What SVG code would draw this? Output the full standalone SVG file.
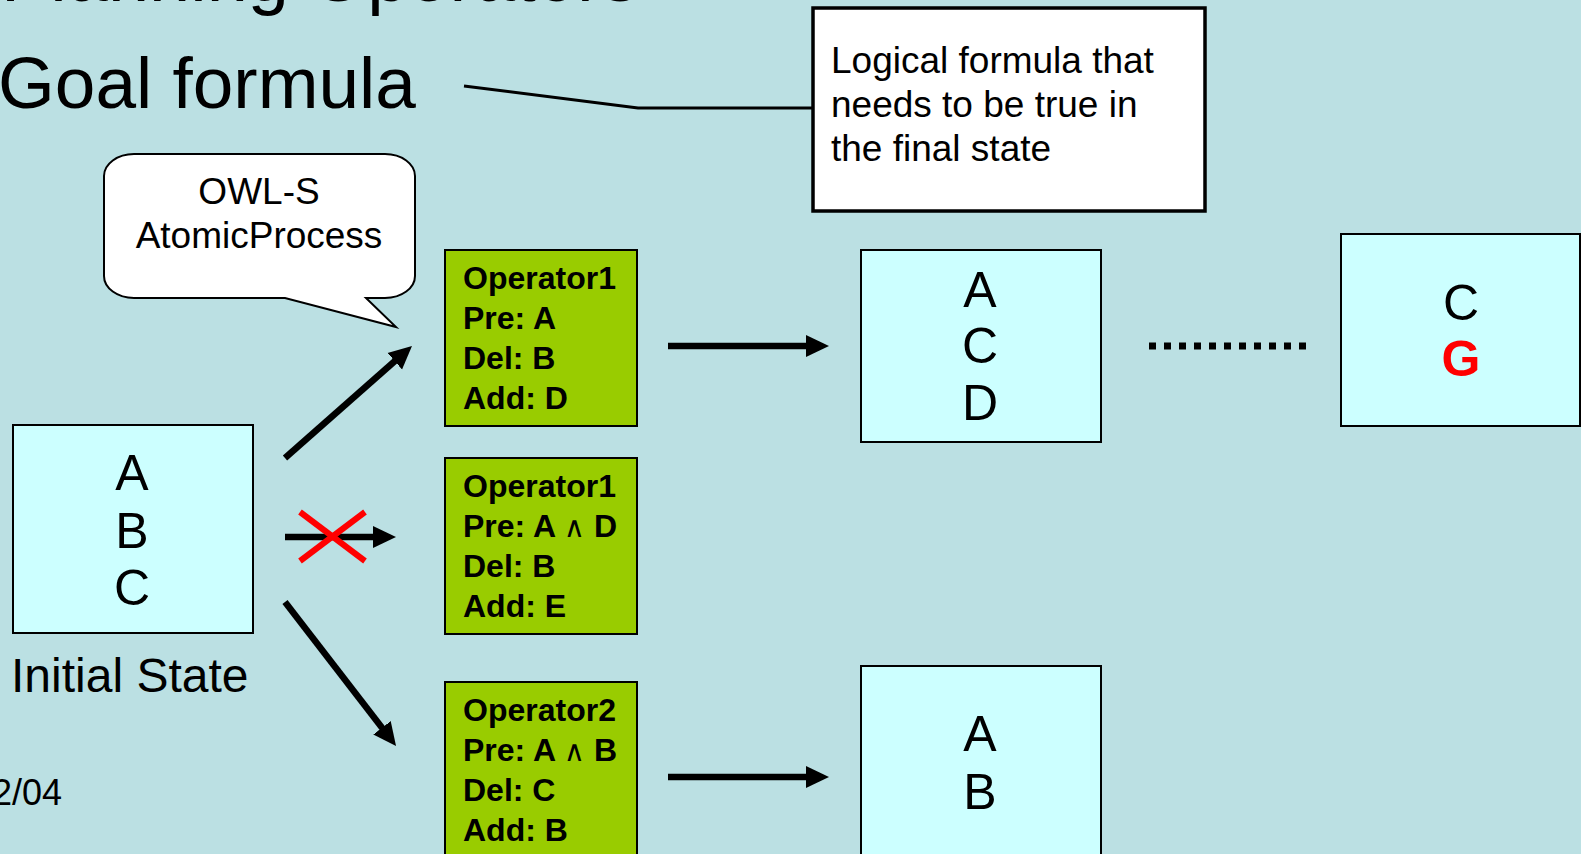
<svg xmlns="http://www.w3.org/2000/svg" width="1581" height="854" viewBox="0 0 1581 854">
<style>
text{font-family:"Liberation Sans",Arial,"DejaVu Sans",sans-serif;fill:#000}
.big{font-size:73px}
.callout{font-size:37px}
.state{fill:#CCFFFF;stroke:#000;stroke-width:2}
.op{fill:#99CC00;stroke:#000;stroke-width:2}
.opt{font-size:32px;font-weight:bold}
.and{font-weight:normal;font-size:29px;font-family:"DejaVu Sans",sans-serif}
.letter{font-size:50px;text-anchor:middle}
.arrow{stroke:#000;stroke-width:6.5;fill:none;marker-end:url(#ah)}
</style>
<defs>
<marker id="ah" markerUnits="userSpaceOnUse" markerWidth="24" markerHeight="24" viewBox="0 0 24 24" refX="1" refY="12" orient="auto">
<path d="M0,1 L23,12 L0,23 Z" fill="#000"/>
</marker>
</defs>
<rect width="1581" height="854" fill="#BBE0E3"/>
<text x="1" y="1" style="font-size:74px">Planning Operators</text>
<text class="big" x="-2" y="108">Goal formula</text>
<text x="-8" y="805" style="font-size:36px">2/04</text>

<g id="connectors">
<polyline points="464,86 638,108 813,108" fill="none" stroke="#000" stroke-width="3"/>
<line class="arrow" x1="285" y1="458" x2="395.5" y2="360.5"/>
<line class="arrow" x1="285" y1="537" x2="374" y2="537"/>
<line class="arrow" x1="285" y1="602" x2="382.6" y2="728.6"/>
<line class="arrow" x1="668" y1="346" x2="807" y2="346"/>
<line class="arrow" x1="668" y1="777" x2="807" y2="777"/>
<line x1="1149" y1="346" x2="1309" y2="346" stroke="#000" stroke-width="7" stroke-dasharray="7 8"/>
<g id="cross" stroke="#FF0000" stroke-width="6">
<line x1="300" y1="512" x2="365" y2="561"/>
<line x1="365" y1="512" x2="300" y2="561"/>
</g>
</g>

<g id="goal-note">
<rect x="813" y="8" width="392" height="203" fill="#fff" stroke="#000" stroke-width="3.5"/>
<text class="callout" x="831" y="73">Logical formula that</text>
<text class="callout" x="831" y="117">needs to be true in</text>
<text class="callout" x="831" y="161">the final state</text>
</g>

<g id="owls-bubble">
<path d="M134,154 H385 A30,22 0 0 1 415,176 V276 A30,22 0 0 1 385,298 H366 L396,327 L285,298 H134 A30,22 0 0 1 104,276 V176 A30,22 0 0 1 134,154 Z" fill="#fff" stroke="#000" stroke-width="2"/>
<text class="callout" x="259" y="204" text-anchor="middle">OWL-S</text>
<text class="callout" x="259" y="248" text-anchor="middle">AtomicProcess</text>
</g>

<g id="initial-state">
<rect class="state" x="13" y="425" width="240" height="208"/>
<text class="letter" x="132" y="490">A</text>
<text class="letter" x="132" y="548">B</text>
<text class="letter" x="132" y="605">C</text>
<text x="11" y="692" style="font-size:48px">Initial State</text>
</g>

<g id="op1-top">
<rect class="op" x="445" y="250" width="192" height="176"/>
<text class="opt" x="463" y="289">Operator1</text>
<text class="opt" x="463" y="329">Pre: A</text>
<text class="opt" x="463" y="369">Del: B</text>
<text class="opt" x="463" y="409">Add: D</text>
</g>

<g id="op1-mid">
<rect class="op" x="445" y="458" width="192" height="176"/>
<text class="opt" x="463" y="497">Operator1</text>
<text class="opt" x="463" y="537">Pre: A <tspan class="and">∧</tspan> D</text>
<text class="opt" x="463" y="577">Del: B</text>
<text class="opt" x="463" y="617">Add: E</text>
</g>

<g id="op2">
<rect class="op" x="445" y="682" width="192" height="180"/>
<text class="opt" x="463" y="721">Operator2</text>
<text class="opt" x="463" y="761">Pre: A <tspan class="and">∧</tspan> B</text>
<text class="opt" x="463" y="801">Del: C</text>
<text class="opt" x="463" y="841">Add: B</text>
</g>

<g id="state-acd">
<rect class="state" x="861" y="250" width="240" height="192"/>
<text class="letter" x="980" y="307">A</text>
<text class="letter" x="980" y="363">C</text>
<text class="letter" x="980" y="420">D</text>
</g>

<g id="state-goal">
<rect class="state" x="1341" y="234" width="239" height="192"/>
<text class="letter" x="1461" y="320">C</text>
<text class="letter" x="1461" y="376" style="fill:#FF0000;font-weight:bold">G</text>
</g>

<g id="state-ab">
<rect class="state" x="861" y="666" width="240" height="200"/>
<text class="letter" x="980" y="751">A</text>
<text class="letter" x="980" y="809">B</text>
</g>
</svg>
